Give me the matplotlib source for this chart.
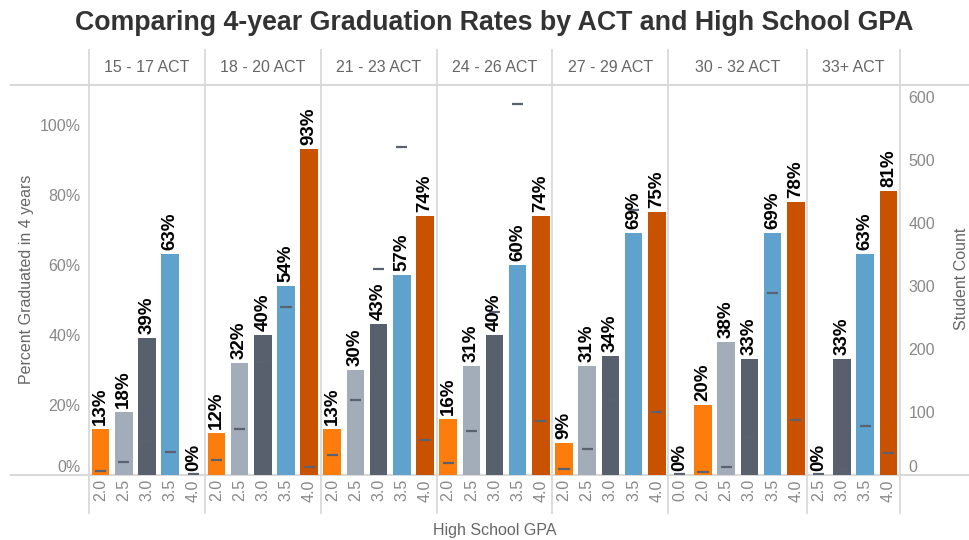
import numpy as np
import matplotlib.pyplot as plt
from matplotlib.transforms import blended_transform_factory

plt.rcParams['font.family'] = ['Liberation Sans', 'DejaVu Sans']

# data
act_groups = ['15 - 17 ACT', '18 - 20 ACT', '21 - 23 ACT', '24 - 26 ACT',
              '27 - 29 ACT', '30 - 32 ACT', '33+ ACT']
gpa_levels = [['2.0', '2.5', '3.0', '3.5', '4.0'],
              ['2.0', '2.5', '3.0', '3.5', '4.0'],
              ['2.0', '2.5', '3.0', '3.5', '4.0'],
              ['2.0', '2.5', '3.0', '3.5', '4.0'],
              ['2.0', '2.5', '3.0', '3.5', '4.0'],
              ['0.0', '2.0', '2.5', '3.0', '3.5', '4.0'],
              ['2.5', '3.0', '3.5', '4.0']]
grad_pct = [[13, 18, 39, 63, 0],
            [12, 32, 40, 54, 93],
            [13, 30, 43, 57, 74],
            [16, 31, 40, 60, 74],
            [9, 31, 34, 69, 75],
            [0, 20, 38, 33, 69, 78],
            [0, 33, 63, 81]]
student_count = [[7, 21, 54, 37, 1],
                 [24, 73, 180, 267, 13],
                 [31, 119, 327, 521, 56],
                 [19, 70, 258, 589, 86],
                 [10, 42, 119, 420, 100],
                 [1, 4, 12, 61, 289, 87],
                 [1, 9, 78, 35]]

gpa_colors = {'0.0': '#1170aa', '2.0': '#fc7d0b', '2.5': '#a3acb9',
              '3.0': '#57606c', '3.5': '#5fa2ce', '4.0': '#c85200'}

W, H = 969, 540
fig = plt.figure(figsize=(W / 100, H / 100), dpi=100)
# plot box in pixels: x 89..900, y 85..475
ax = fig.add_axes([89 / W, 1 - 475 / H, 811 / W, 390 / H])
ax2 = ax.twinx()

grey_line = '#d9d9d9'
tick_grey = '#888888'

# flatten panels into one x sequence
xs, labels, pcts, counts, cols = [], [], [], [], []
bounds = [-0.5]
pos = 0
for gpas, p, c in zip(gpa_levels, grad_pct, student_count):
    for g, pv, cv in zip(gpas, p, c):
        xs.append(pos)
        labels.append(g)
        pcts.append(pv / 100)
        counts.append(cv)
        cols.append(gpa_colors[g])
        pos += 1
    bounds.append(pos - 0.5)
xs = np.array(xs)

ax.bar(xs, pcts, width=0.76, color=cols, zorder=2)
ax2.hlines(counts, xs - 0.24, xs + 0.24, color='#59626e', lw=1.6, zorder=3)

# labels on top of everything
for x, p in zip(xs, pcts):
    ax2.annotate('%d%%' % round(p * 100), xy=(x, p), xycoords=ax.transData,
                 xytext=(0, 3), textcoords='offset points', rotation=90,
                 ha='center', va='bottom', fontsize=13.5, fontweight='bold',
                 color='black', zorder=5)

ax.set_xlim(-0.5, len(xs) - 0.5)
ax.set_ylim(0, 1.114)
ax2.set_ylim(0, 619)

ax.set_yticks([0, 0.2, 0.4, 0.6, 0.8, 1.0])
ax.set_yticklabels(['0%', '20%', '40%', '60%', '80%', '100%'])
ax2.set_yticks([0, 100, 200, 300, 400, 500, 600])
ax.tick_params(axis='y', length=0, pad=6, labelsize=11.5, labelcolor=tick_grey)
ax2.tick_params(axis='y', length=0, pad=6, labelsize=11.5, labelcolor=tick_grey)
ax.get_yticklabels()[0].set_va('bottom')
ax2.get_yticklabels()[0].set_va('bottom')

ax.set_xticks(xs)
ax.set_xticklabels(labels, rotation=90)
ax.tick_params(axis='x', length=0, pad=3, labelsize=11.5, labelcolor=tick_grey)

for a in (ax, ax2):
    for s in a.spines.values():
        s.set_visible(False)

# axis titles placed where the reference has them
fig.text(27 / W, 1 - 279 / H, 'Percent Graduated in 4 years', rotation=90,
         ha='center', va='center', fontsize=11.5, color='#666666')
fig.text(961 / W, 1 - 279 / H, 'Student Count', rotation=90,
         ha='center', va='center', fontsize=11.5, color='#666666')
fig.text(495 / W, 1 - 531 / H, 'High School GPA',
         ha='center', va='center', fontsize=11.5, color='#666666')

# panel separators and header band
for b in bounds:
    ax.axvline(b, ymin=-0.0974, ymax=1.0897, color=grey_line, lw=1.3, clip_on=False, zorder=1)
ax.axhline(0, xmin=(11 - 89) / 811, xmax=(969 - 89) / 811, color=grey_line, lw=1.5,
           clip_on=False, zorder=1)
ax.axhline(1.114, xmin=(11 - 89) / 811, xmax=(969 - 89) / 811, color=grey_line, lw=1.5,
           clip_on=False, zorder=1)

trans = blended_transform_factory(ax.transData, ax.transAxes)
for name, b0, b1 in zip(act_groups, bounds[:-1], bounds[1:]):
    ax.text((b0 + b1) / 2, 1 + 18 / 390, name, transform=trans, ha='center', va='center',
            fontsize=11.5, color='#666666')

fig.text(494 / W, 1 - 23 / H, 'Comparing 4-year Graduation Rates by ACT and High School GPA',
         ha='center', va='center', fontsize=19.3, fontweight='bold', color='#333333')

fig.savefig('out.png', dpi=100)
